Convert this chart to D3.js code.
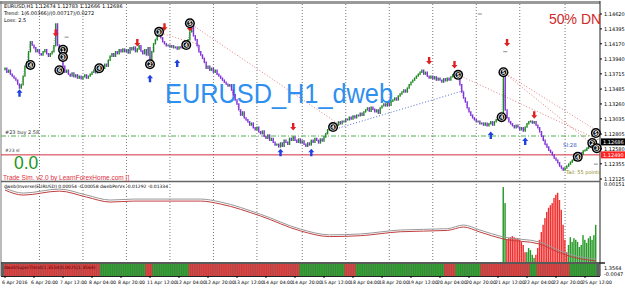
<!DOCTYPE html>
<html>
<head>
<meta charset="utf-8">
<script src="https://cdn.jsdelivr.net/npm/d3@7"></script>
<style>
body { margin: 0; background: #fff; }
svg text { font-family: "DejaVu Sans", sans-serif; }
</style>
</head>
<body>
<div id="chart"></div>
<script>
// hourly closes, EURUSD H1, from 6 Apr 04:00
var firstOpen = 1.1378;
var closes = [
 1.1380,1.1374,1.1377,1.1371,1.1368, 1.1365,1.1362,1.1356,1.1350,1.1355,
 1.1368,1.1383,1.1389,1.1405,1.1420, 1.1415,1.1411,1.1405,1.1408,1.1402,
 1.1400,1.1405,1.1408,1.1402,1.1398, 1.1402,1.1405,1.1414,1.1447,1.1415,
 1.1408,1.1395,1.1383,1.1374,1.1377, 1.1371,1.1368,1.1373,1.1367,1.1370,
 1.1365,1.1368,1.1364,1.1367,1.1370, 1.1365,1.1368,1.1371,1.1374,1.1377,
 1.1373,1.1377,1.1380,1.1383,1.1380, 1.1386,1.1383,1.1392,1.1398,1.1402,
 1.1398,1.1405,1.1402,1.1408,1.1405, 1.1409,1.1405,1.1408,1.1403,1.1411,
 1.1408,1.1412,1.1405,1.1409,1.1414, 1.1406,1.1402,1.1408,1.1400,1.1411,
 1.1392,1.1405,1.1417,1.1423,1.1429, 1.1433,1.1426,1.1420,1.1417,1.1414,
 1.1415,1.1412,1.1414,1.1411,1.1412, 1.1409,1.1412,1.1411,1.1414,1.1412,
 1.1415,1.1423,1.1435,1.1444,1.1429, 1.1423,1.1414,1.1405,1.1400,1.1395,
 1.1389,1.1380,1.1383,1.1377,1.1380, 1.1374,1.1377,1.1371,1.1368,1.1365,
 1.1362,1.1359,1.1356,1.1353,1.1355, 1.1347,1.1340,1.1332,1.1326,1.1317,
 1.1309,1.1314,1.1305,1.1302,1.1299, 1.1294,1.1297,1.1290,1.1287,1.1291,
 1.1284,1.1281,1.1285,1.1277,1.1274, 1.1279,1.1271,1.1274,1.1268,1.1264,
 1.1265,1.1261,1.1267,1.1262,1.1271, 1.1268,1.1265,1.1274,1.1271,1.1276,
 1.1271,1.1268,1.1273,1.1267,1.1270, 1.1265,1.1262,1.1267,1.1264,1.1271,
 1.1268,1.1274,1.1271,1.1267,1.1273, 1.1270,1.1276,1.1281,1.1287,1.1290,
 1.1293,1.1296,1.1291,1.1294,1.1299, 1.1296,1.1300,1.1299,1.1303,1.1302,
 1.1306,1.1303,1.1308,1.1305,1.1309, 1.1308,1.1312,1.1309,1.1314,1.1317,
 1.1320,1.1315,1.1321,1.1318,1.1314, 1.1317,1.1312,1.1320,1.1323,1.1326,
 1.1323,1.1327,1.1324,1.1330,1.1332, 1.1335,1.1332,1.1338,1.1341,1.1344,
 1.1347,1.1344,1.1350,1.1355,1.1359, 1.1362,1.1365,1.1368,1.1371,1.1374,
 1.1377,1.1371,1.1374,1.1368,1.1365, 1.1368,1.1364,1.1367,1.1362,1.1365,
 1.1362,1.1359,1.1364,1.1361,1.1365, 1.1362,1.1367,1.1370,1.1371,1.1368,
 1.1365,1.1355,1.1344,1.1335,1.1329, 1.1320,1.1314,1.1309,1.1305,1.1302,
 1.1299,1.1300,1.1296,1.1297,1.1294, 1.1297,1.1293,1.1296,1.1299,1.1294,
 1.1299,1.1302,1.1305,1.1302,1.1308, 1.1368,1.1317,1.1305,1.1299,1.1296,
 1.1293,1.1290,1.1294,1.1291,1.1287, 1.1290,1.1285,1.1291,1.1296,1.1299,
 1.1300,1.1297,1.1299,1.1294,1.1290, 1.1284,1.1277,1.1271,1.1265,1.1261,
 1.1256,1.1253,1.1249,1.1244,1.1241, 1.1237,1.1232,1.1229,1.1226,1.1229,
 1.1232,1.1235,1.1238,1.1241,1.1244, 1.1246,1.1249,1.1252,1.1250,1.1255,
 1.1256,1.1259,1.1262,1.1261,1.1265, 1.1267,1.1268
];

var timeLabels = ["6 Apr 2016","6 Apr 20:00","7 Apr 12:00","8 Apr 04:00","8 Apr 20:00",
  "11 Apr 12:00","12 Apr 04:00","12 Apr 20:00","13 Apr 12:00","14 Apr 04:00","14 Apr 20:00",
  "15 Apr 12:00","18 Apr 04:00","18 Apr 20:00","19 Apr 12:00","20 Apr 04:00","20 Apr 20:00",
  "21 Apr 12:00","22 Apr 04:00","22 Apr 20:00","25 Apr 12:00"];
var barsPerLabel = 16;
var gridBars = [19,43,67,91,115,139,164,188,212,236,260,284,309];

var priceTicks = [1.14620,1.14395,1.14170,1.13940,1.13715,1.13485,1.13260,1.13035,1.12805,1.12580,1.12355,1.12125];
var lastPrice = 1.12686;
var slPrice = 1.12490;
var buyPrice = 1.12775;

// signal arrows and order markers: [bar, price]
var arrowsDn = [[28,1.1433],[73,1.1418],[88,1.1442],[102,1.1441],[159,1.1291],[234,1.1391],[248,1.1385],[277,1.1418],[292,1.1309]];
var arrowsUp = [[8,1.1343],[80,1.1365],[95,1.1388],[152,1.1253],[169,1.1253],[268,1.1279],[287,1.1270]];
var markers = [[14,1.1385,"4"],[32,1.1408,"1"],[32,1.1397,"3"],[30,1.1377,"6"],[52,1.1380,"4"],
  [80,1.1386,"2"],[85,1.1435,"3"],[100,1.1415,"4"],[102,1.1448,"5"],[181,1.1291,"4"],
  [250,1.1370,"5"],[275,1.1374,"5"],[274,1.1306,"4"],[316,1.1246,"4"],[326,1.1282,"5"],
  [324,1.1267,"2"],[326.5,1.1259,"3"]];
var dashMarks = [[34,1.1427],[276,1.1405],[262,1.1462],[326,1.1235]];

// dotted trend lines: [bar1, price1, bar2, price2, colour]
var trendLines = [
  [102,1.1448,185,1.1294,"#e07070"],
  [86,1.1433,108,1.1415,"#e07070"],
  [250,1.1370,328,1.1271,"#e07070"],
  [275,1.1374,328,1.1283,"#e07070"],
  [275,1.1374,328,1.1256,"#e07070"],
  [181,1.1287,254,1.1347,"#4060d0"],
  [307,1.1226,328,1.1274,"#40a040"]
];

// dweb histogram (pane 1), signed: + green, - red, from bar 275
var histStart = 275;
var histVals = [0.00145,0.00114,
  -0.00043,-0.00046,-0.00048,-0.00050,-0.00048,-0.00046,-0.00046,-0.00043,-0.00039,-0.00033,-0.00019,
  0.00019,0.00027,0.00023,0.00014,0.00008,
  -0.00014,-0.00027,-0.00043,-0.00058,-0.00072,-0.00085,-0.00097,-0.00105,-0.00110,-0.00114,-0.00124,-0.00130,-0.00134,-0.00120,-0.00101,-0.00072,-0.00043,-0.00019,
  0.00033,0.00048,0.00039,0.00046,0.00043,0.00039,0.00029,0.00033,0.00052,0.00043,0.00037,0.00046,0.00050,0.00043,0.00052,0.00072];
// dwebPerVs lines: [bar, value]
var perVsA = [[0,0.00327],[10,0.00213],[30,0.00304],[45,0.00168],[58,0.00054],[71,0.00076],[108,0.00076],
  [119,0.00008],[141,-0.0027],[163,-0.0061],[179,-0.0074],[196,-0.0072],[218,-0.0063],[244,-0.0060],
  [253,-0.00516],[262,-0.0063],[275,-0.0079],[295,-0.00904],[305,-0.01086],[313,-0.0120],[326,-0.01292]];
var perVsB = [[0,0.00281],[10,0.00167],[30,0.00258],[45,0.00122],[58,0.00008],[71,0.00030],[108,0.00030],
  [119,-0.00038],[141,-0.0031],[163,-0.0065],[179,-0.0078],[196,-0.0076],[218,-0.0067],[244,-0.0064],
  [253,-0.00562],[262,-0.00676],[275,-0.00836],[295,-0.0095],[305,-0.01132],[313,-0.01246],[326,-0.01334]];

// supertrend strip: [firstBar, lastBar, direction]
var trendRuns = [[0,52,-1],[53,77,1],[78,81,-1],[82,101,1],[102,162,-1],[163,187,1],[188,193,-1],
  [194,242,1],[243,248,-1],[249,262,1],[263,289,-1],[290,293,1],[294,311,-1],[312,326,1]];

var W = 625, H = 289;
var axisX = 600;
var mainTop = 4, mainBottom = 181, pane1Bottom = 262, stripTop = 264, stripBottom = 276;

var svg = d3.select("#chart").append("svg")
  .attr("width", W).attr("height", H);

svg.append("rect").attr("width", W).attr("height", H).attr("fill", "#fff");

var x = d3.scaleLinear().domain([0, 320]).range([5, 585]);
var barW = x(1) - x(0);
var y = d3.scaleLinear().domain([1.12125, 1.14620]).range([179, 14]);
var yHist = d3.scaleLinear().domain([0, 0.00151]).range([pane1Bottom, 184]);
var yPer = d3.scaleLinear().domain([-0.0136, 0.0042]).range([pane1Bottom, 184]);

// frame
svg.append("rect").attr("x", 0).attr("y", 1).attr("width", axisX).attr("height", 3).attr("fill", "#9a9a9a");
svg.append("line").attr("x1", 1).attr("x2", 1).attr("y1", 1).attr("y2", stripBottom).attr("stroke", "#777");
svg.append("line").attr("x1", axisX).attr("x2", axisX).attr("y1", 1).attr("y2", stripBottom).attr("stroke", "#222");
svg.append("line").attr("x1", 1).attr("x2", axisX).attr("y1", mainBottom + 0.5).attr("y2", mainBottom + 0.5).attr("stroke", "#666").attr("stroke-width", 1.5);
svg.append("line").attr("x1", 1).attr("x2", axisX + 5).attr("y1", pane1Bottom + 1).attr("y2", pane1Bottom + 1).attr("stroke", "#222").attr("stroke-width", 1.5);
svg.append("line").attr("x1", 1).attr("x2", axisX).attr("y1", stripBottom + 0.5).attr("y2", stripBottom + 0.5).attr("stroke", "#222");

// vertical grid
svg.selectAll(".vgrid").data(gridBars).enter().append("line")
  .attr("x1", function(d){ return x(d); }).attr("x2", function(d){ return x(d); })
  .attr("y1", mainTop).attr("y2", pane1Bottom)
  .attr("stroke", "#555").attr("stroke-width", 0.8).attr("stroke-dasharray", "1,2");

// order lines
svg.append("line").attr("x1", 1).attr("x2", axisX).attr("y1", y(buyPrice)).attr("y2", y(buyPrice))
  .attr("stroke", "#4caf50").attr("stroke-dasharray", "5,2,1,2");
svg.append("line").attr("x1", 1).attr("x2", axisX).attr("y1", y(slPrice)).attr("y2", y(slPrice))
  .attr("stroke", "#d03040").attr("stroke-width", 1);
svg.append("text").attr("x", 5).attr("y", y(buyPrice) - 2).text("#23 buy 2.58").style("font-size", "5px").attr("fill", "#333");
svg.append("text").attr("x", 5).attr("y", y(slPrice) - 3).text("#23 sl").style("font-size", "4.5px").attr("fill", "#333");

// trend lines
svg.selectAll(".tl").data(trendLines).enter().append("line")
  .attr("x1", function(d){ return x(d[0]); }).attr("y1", function(d){ return y(d[1]); })
  .attr("x2", function(d){ return x(d[2]); }).attr("y2", function(d){ return y(d[3]); })
  .attr("stroke", function(d){ return d[4]; }).attr("stroke-width", 0.9).attr("stroke-dasharray", "1,2");

// big watermark text
svg.append("text").attr("x", 165).attr("y", 103).text("EURUSD_H1_dweb")
  .attr("textLength", 228).attr("lengthAdjust", "spacingAndGlyphs")
  .style("font-family", "'Liberation Sans', Arial, sans-serif").style("font-size", "28px").attr("fill", "#2f8fef");

// price bars
var bars = closes.map(function(c, i){
  return { i: i, open: i == 0 ? firstOpen : closes[i-1], close: c };
});
var priceLine = d3.line().x(function(d){ return x(d.i); }).y(function(d){ return y(d.close); });
svg.append("path").datum(bars).attr("d", priceLine).attr("fill", "none")
  .attr("stroke", "#8a60d8").attr("stroke-width", 0.8).attr("stroke-dasharray", "1,1.5").attr("opacity", 0.8);
svg.selectAll(".bar").data(bars).enter().append("line")
  .attr("x1", function(d){ return x(d.i); }).attr("x2", function(d){ return x(d.i); })
  .attr("y1", function(d){ return Math.min(y(d.open), y(d.close)) - 0.7; })
  .attr("y2", function(d){ return Math.max(y(d.open), y(d.close)) + 0.7; })
  .attr("stroke", function(d){ return d.close >= d.open ? "#1e8a1e" : "#8230d8"; })
  .attr("stroke-width", 1.4);

// gray dash marks
svg.selectAll(".dash").data(dashMarks).enter().append("line")
  .attr("x1", function(d){ return x(d[0]) - 2; }).attr("x2", function(d){ return x(d[0]) + 2; })
  .attr("y1", function(d){ return y(d[1]); }).attr("y2", function(d){ return y(d[1]); })
  .attr("stroke", "#888").attr("stroke-width", 1);

// arrows
var downArrow = "M-1.2,-4 L1.2,-4 L1.2,0 L3,0 L0,3.5 L-3,0 L-1.2,0 Z";
var upArrow = "M-1.2,4 L1.2,4 L1.2,0 L3,0 L0,-3.5 L-3,0 L-1.2,0 Z";
svg.selectAll(".adn").data(arrowsDn).enter().append("path")
  .attr("d", downArrow).attr("fill", "#e02020")
  .attr("transform", function(d){ return "translate(" + x(d[0]) + "," + y(d[1]) + ")"; });
svg.selectAll(".aup").data(arrowsUp).enter().append("path")
  .attr("d", upArrow).attr("fill", "#2040e0")
  .attr("transform", function(d){ return "translate(" + x(d[0]) + "," + y(d[1]) + ")"; });

// order markers
var mk = svg.selectAll(".mk").data(markers).enter().append("g")
  .attr("transform", function(d){ return "translate(" + x(d[0]) + "," + y(d[1]) + ")"; });
mk.append("circle").attr("r", 5).attr("fill", "#000");
mk.append("circle").attr("r", 3.2).attr("fill", "none").attr("stroke", "#fff").attr("stroke-width", 0.8);
mk.append("text").text(function(d){ return d[2]; }).attr("text-anchor", "middle").attr("y", 2)
  .style("font-size", "5px").style("font-weight", "bold").attr("fill", "#fff");

// texts
svg.append("text").attr("x", 563).attr("y", 147).text("Sl:28").style("font-size", "5.5px").attr("fill", "#3050c0");
svg.append("text").attr("x", 566).attr("y", 174).text("Tail: 55 points").style("font-size", "5px").attr("fill", "#8a8a20");
svg.append("text").attr("x", 4).attr("y", 8).text("EURUSD,H1  1.12674 1.12783 1.12666 1.12686").style("font-size", "5px").attr("fill", "#000");
svg.append("text").attr("x", 4).attr("y", 15).text("Trend: 1(6.00366)/(0.00717)/0.0272").style("font-size", "5px").attr("fill", "#000");
svg.append("text").attr("x", 4).attr("y", 22).text("Loss: 2.5").style("font-size", "5px").attr("fill", "#000");
svg.append("text").attr("x", 549).attr("y", 24).text("50% DN")
  .style("font-family", "'Liberation Sans', Arial, sans-serif").style("font-size", "14px").attr("fill", "#d02a2a");
svg.append("text").attr("x", 14).attr("y", 168.5).text("0.0")
  .style("font-family", "'Liberation Sans', Arial, sans-serif").style("font-size", "17.5px").attr("fill", "#1a961a");
svg.append("text").attr("x", 3).attr("y", 179.5).text("Trade Sim. v2.0 by LearnForexHome.com []")
  .style("font-family", "'Liberation Sans', Arial, sans-serif").style("font-size", "6.5px").attr("fill", "#e03040");

// price axis
svg.selectAll(".pt").data(priceTicks).enter().append("text")
  .attr("x", axisX + 4).attr("y", function(d){ return y(d) + 2; })
  .text(function(d){ return d.toFixed(5); }).style("font-size", "5px").attr("fill", "#000");
svg.selectAll(".ptk").data(priceTicks).enter().append("line")
  .attr("x1", axisX).attr("x2", axisX + 2).attr("y1", function(d){ return y(d); }).attr("y2", function(d){ return y(d); })
  .attr("stroke", "#000");
[[lastPrice, "#000"], [slPrice, "#ff2020"]].forEach(function(p){
  svg.append("rect").attr("x", axisX + 1).attr("y", y(p[0]) - 3.5).attr("width", 24).attr("height", 7).attr("fill", p[1]);
  svg.append("text").attr("x", axisX + 3).attr("y", y(p[0]) + 2).text(p[0].toFixed(5))
    .style("font-size", "5px").attr("fill", "#fff");
});

// pane 1: histogram + per lines
svg.selectAll(".hist").data(histVals).enter().append("rect")
  .attr("x", function(d, i){ return x(histStart + i) - barW / 2; })
  .attr("width", barW * 0.8)
  .attr("y", function(d){ return yHist(Math.abs(d)); })
  .attr("height", function(d){ return pane1Bottom - yHist(Math.abs(d)); })
  .attr("fill", function(d){ return d >= 0 ? "#2a9a2a" : "#f03030"; });
var perLine = d3.line().curve(d3.curveMonotoneX)
  .x(function(d){ return x(d[0]); }).y(function(d){ return yPer(d[1]); });
svg.append("path").datum(perVsA).attr("d", perLine).attr("fill", "none").attr("stroke", "#999").attr("stroke-width", 1);
svg.append("path").datum(perVsB).attr("d", perLine).attr("fill", "none").attr("stroke", "#c04040").attr("stroke-width", 1);
svg.append("text").attr("x", 4).attr("y", 188).text("dweb(Inverse(EURUSD) 0.00054 -0.00058  dwebPerVs -0.01292 -0.01334")
  .style("font-size", "4.5px").attr("fill", "#000");
svg.append("text").attr("x", axisX + 4).attr("y", 186).text("0.00151").style("font-size", "5px").attr("fill", "#000");

// pane 2: trend strip
var stripBars = [];
trendRuns.forEach(function(r){
  d3.range(r[0], r[1] + 1).forEach(function(i){ stripBars.push({ i: i, dir: r[2] }); });
});
svg.append("rect").attr("x", 1).attr("y", stripTop).attr("width", axisX - 1).attr("height", stripBottom - stripTop).attr("fill", "#606060");
svg.selectAll(".st").data(stripBars).enter().append("rect")
  .attr("x", function(d){ return x(d.i) - barW / 2; }).attr("width", barW * 0.75)
  .attr("y", stripTop).attr("height", stripBottom - stripTop)
  .attr("fill", function(d){ return d.dir > 0 ? "#2aa82a" : "#f23a3a"; });
svg.append("text").attr("x", 4).attr("y", 269).text("dwebSuperTrend(1.3554|0.0025|1.3564)")
  .style("font-size", "4.5px").attr("fill", "#600000");
svg.append("text").attr("x", axisX + 4).attr("y", 270).text("1.3564").style("font-size", "5px").attr("fill", "#000");
svg.append("text").attr("x", axisX + 4).attr("y", 276).text("-0.0047").style("font-size", "5px").attr("fill", "#000");

// time axis
svg.selectAll(".tlab").data(timeLabels).enter().append("text")
  .attr("x", function(d, i){ return i == 0 ? 2 : x(i * barsPerLabel) - 3; })
  .attr("y", 284).text(function(d){ return d; })
  .style("font-size", "4.6px").attr("fill", "#000");
svg.selectAll(".ttk").data(timeLabels).enter().append("line")
  .attr("x1", function(d, i){ return x(i * barsPerLabel); }).attr("x2", function(d, i){ return x(i * barsPerLabel); })
  .attr("y1", stripBottom).attr("y2", stripBottom + 2).attr("stroke", "#000");
</script>
</body>
</html>
